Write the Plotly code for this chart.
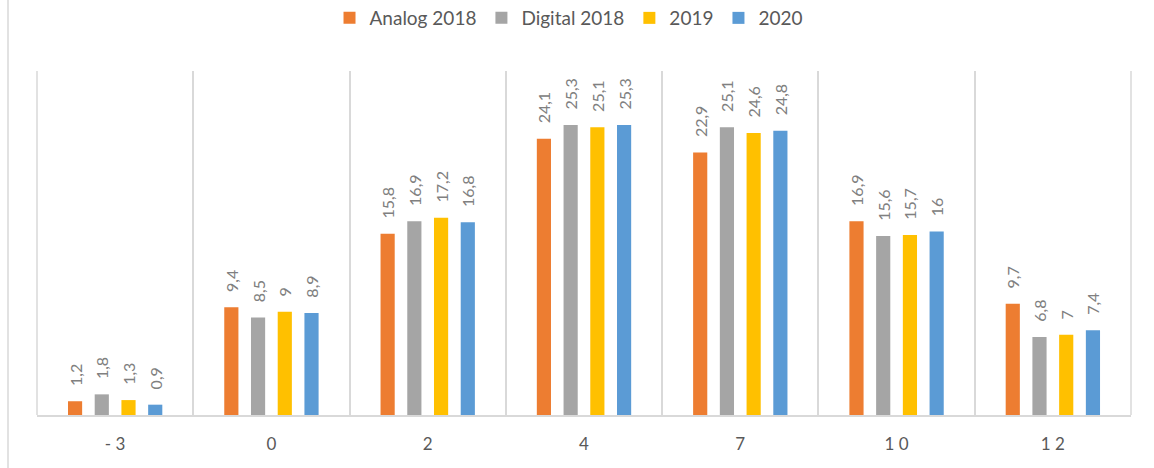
import plotly.graph_objects as go

categories = ["-3", "0", "2", "4", "7", "10", "12"]
tick_labels = ["- 3", "0", "2", "4", "7", "1 0", "1 2"]
series_names = ["Analog 2018", "Digital 2018", "2019", "2020"]
analog_2018 = [1.2, 9.4, 15.8, 24.1, 22.9, 16.9, 9.7]
digital_2018 = [1.8, 8.5, 16.9, 25.3, 25.1, 15.6, 6.8]
y2019 = [1.3, 9, 17.2, 25.1, 24.6, 15.7, 7]
y2020 = [0.9, 8.9, 16.8, 25.3, 24.8, 16, 7.4]
colors = ["#ED7D31", "#A5A5A5", "#FFC000", "#5B9BD5"]

fig = go.Figure()
for name, vals, col in zip(series_names, [analog_2018, digital_2018, y2019, y2020], colors):
    fig.add_trace(go.Bar(
        x=categories, y=vals, name=name, marker=dict(color=col, line=dict(width=0)),
        text=["\u00a0\u00a0\u00a0" + str(v).replace(".", ",") for v in vals],
        textposition="outside", textangle=-90, cliponaxis=False, constraintext="none",
        textfont=dict(family="Lato, sans-serif", size=16, color="#808080"),
    ))

fig.update_layout(
    width=1154, height=468,
    margin=dict(l=37, r=23, t=71, b=53, autoexpand=False),
    paper_bgcolor="white", plot_bgcolor="white",
    barmode="group", bargap=0.316, bargroupgap=0.47,
    font=dict(family="Lato, sans-serif", color="#595959"),
    legend=dict(orientation="h", x=0.4863, xanchor="center", y=1.154, yanchor="middle",
                font=dict(size=19, color="#595959"), itemwidth=30, traceorder="normal"),
    xaxis=dict(type="category", tickmode="array", tickvals=categories, ticktext=tick_labels,
               showgrid=True, tickson="boundaries", gridcolor="#D9D9D9", gridwidth=1.5,
               showline=True, linecolor="#D9D9D9", linewidth=1.5, ticks="",
               tickfont=dict(size=17, color="#595959"), ticklabelstandoff=13),
    yaxis=dict(range=[0, 30], showgrid=False, showticklabels=False, zeroline=False, showline=False),
    shapes=[
        dict(type="line", xref="paper", yref="paper", x0=(8 - 37) / 1094, x1=(8 - 37) / 1094,
             y0=-53 / 344, y1=1 + 71 / 344, line=dict(color="#D9D9D9", width=1.5)),
        dict(type="line", xref="paper", yref="paper", x0=1, x1=1, y0=0, y1=1,
             line=dict(color="#D9D9D9", width=1.5)),
        dict(type="line", xref="paper", yref="paper", x0=0, x1=0, y0=0, y1=1,
             line=dict(color="#D9D9D9", width=1.5)),
    ],
)

fig.write_html("out.html", config={"displayModeBar": False},
               post_script="document.body.style.margin='0';")
